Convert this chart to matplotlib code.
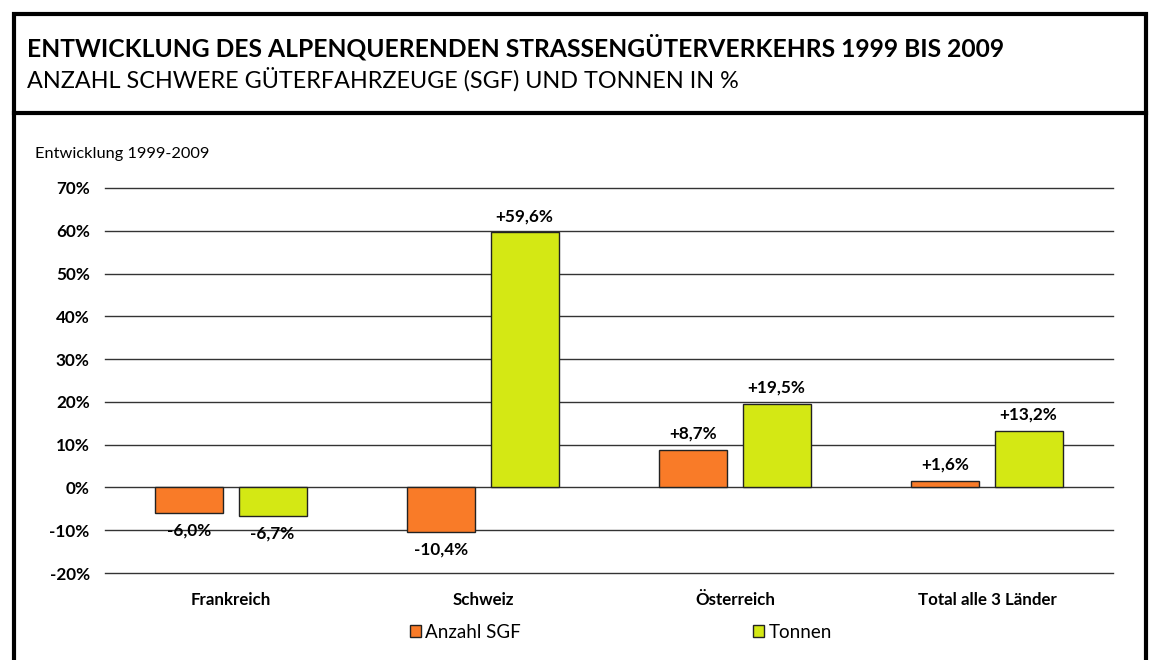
import matplotlib
matplotlib.use("Agg")
import matplotlib.pyplot as plt
import numpy as np
from matplotlib.patches import Rectangle
from matplotlib.lines import Line2D

plt.rcParams["font.family"] = ["Lato", "DejaVu Sans"]

categories = ["Frankreich", "Schweiz", "Österreich", "Total alle 3 Länder"]
anzahl_sgf = [-6.0, -10.4, 8.7, 1.6]
tonnen = [-6.7, 59.6, 19.5, 13.2]
series_names = ["Anzahl SGF", "Tonnen"]
yticks = [-20, -10, 0, 10, 20, 30, 40, 50, 60, 70]

orange = "#F97B28"
green = "#D4E814"

W, H = 1154, 660
fig = plt.figure(figsize=(W / 100, H / 100), dpi=100)

# frame and header separator
fig.add_artist(Rectangle((14 / W, -0.01), (1146 - 14) / W, (H - 14) / H + 0.01,
                         transform=fig.transFigure, fill=False, lw=3, ec="black"))
fig.add_artist(Line2D([14 / W, 1146 / W], [1 - 113 / H, 1 - 113 / H],
                      transform=fig.transFigure, lw=3, color="black"))

fig.text(27 / W, 1 - 47 / H, "ENTWICKLUNG DES ALPENQUERENDEN STRASSENGÜTERVERKEHRS 1999 BIS 2009",
         fontsize=17.7, fontweight="bold", va="center", ha="left")
fig.text(27 / W, 1 - 79 / H, "ANZAHL SCHWERE GÜTERFAHRZEUGE (SGF) UND TONNEN IN %",
         fontsize=16.8, va="center", ha="left")
fig.text(35 / W, 1 - 154 / H, "Entwicklung 1999-2009", fontsize=11.8, va="center", ha="left")

ax = fig.add_axes([105 / W, 1 - 573 / H, (1113 - 105) / W, (573 - 188) / H])
x = np.arange(len(categories))
bw = 0.27
off = 0.165
b1 = ax.bar(x - off, anzahl_sgf, bw, color=orange, edgecolor="#222222", lw=1, zorder=3)
b2 = ax.bar(x + off, tonnen, bw, color=green, edgecolor="#222222", lw=1, zorder=3)

for bars, vals in ((b1, anzahl_sgf), (b2, tonnen)):
    for rect, v in zip(bars, vals):
        cx = rect.get_x() + rect.get_width() / 2
        lab = f"{v:+.1f}%".replace(".", ",")
        if v >= 0:
            ax.annotate(lab, (cx, v), xytext=(0, 6), textcoords="offset points",
                        ha="center", va="bottom", fontsize=12.3, fontweight="bold")
        else:
            ax.annotate(lab, (cx, v), xytext=(0, -7), textcoords="offset points",
                        ha="center", va="top", fontsize=12.3, fontweight="bold")

ax.set_xlim(-0.5, len(categories) - 0.5)
ax.set_ylim(-20, 70)
ax.set_yticks(yticks)
ax.set_yticklabels([f"{t}%" for t in yticks], fontsize=12.3, fontweight="bold")
ax.set_xticks(x)
ax.set_xticklabels(categories, fontsize=12.2, fontweight="bold")
ax.tick_params(length=0, pad=11)
ax.tick_params(axis="x", pad=14)
for t in yticks:
    ax.axhline(t, color="#333333", lw=1, zorder=1, clip_on=False)
for s in ax.spines.values():
    s.set_visible(False)

handles = [Rectangle((0, 0), 1, 1, fc=orange, ec="#222222"),
           Rectangle((0, 0), 1, 1, fc=green, ec="#222222")]
fig.legend(handles, series_names, loc="center", bbox_to_anchor=(621 / W, 1 - 632 / H),
           ncol=2, frameon=False, fontsize=13.5, handlelength=0.55, handleheight=0.55,
           handletextpad=0.25, columnspacing=12.4)

fig.savefig("out.png", dpi=100)
